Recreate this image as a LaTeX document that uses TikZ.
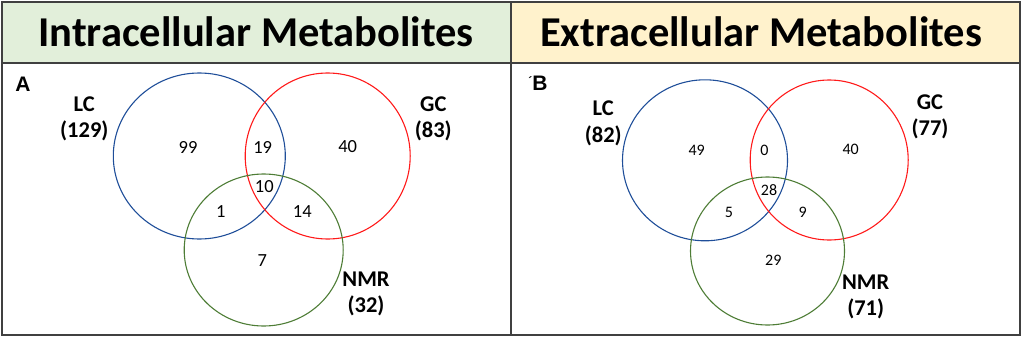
\documentclass[tikz,border=0pt]{standalone}
\usepackage{fontspec}
\setmainfont{Carlito}
\newfontfamily\arialfont{Liberation Sans}
\usetikzlibrary{shapes.geometric}
\definecolor{hdrgreen}{HTML}{E2EFDA}
\definecolor{hdryellow}{HTML}{FFF2CC}
\definecolor{framegray}{HTML}{404040}
\definecolor{lcblue}{HTML}{1F4E99}
\definecolor{gcred}{HTML}{FF1A1A}
\definecolor{nmrgreen}{HTML}{4E7D36}
\tikzset{
  frameline/.style={draw=framegray, line width=1.6pt},
  venn/.style={ellipse, draw, line width=1.1pt, inner sep=0pt},
  titletext/.style={font=\fontsize{42.5}{50}\selectfont\bfseries, inner sep=0pt, anchor=base},
  setlabel/.style={font=\fontsize{22.5}{26.5}\selectfont\bfseries, inner sep=0pt, align=center},
  countA/.style={font=\fontsize{18.5}{21}\selectfont, inner sep=0pt},
  countB/.style={font=\fontsize{16}{18}\selectfont, inner sep=0pt},
  panel/.style={font=\arialfont\fontsize{21}{24}\selectfont\bfseries, inner sep=0pt}
}
\begin{document}
\begin{tikzpicture}[x=1pt,y=-1pt]
\useasboundingbox (0,0) rectangle (1024,337);
% header cells
\fill[hdrgreen] (2,2) rectangle (511,63);
\fill[hdryellow] (511,2) rectangle (1020,63);
\draw[frameline] (2,2) rectangle (1020,335);
\draw[frameline] (2,63) -- (1020,63);
\draw[frameline] (511,2) -- (511,335);
\node[titletext] (tA) at (256,47) {Intracellular Metabolites};
\node[titletext] (tB) at (761,47) {Extracellular Metabolites};
% panel A
\node[panel] (pA) at (23,84) {A};
\node[venn, draw=lcblue, minimum width=172pt, minimum height=166pt] (lcA) at (199.3,156) {};
\node[venn, draw=gcred, minimum width=165pt, minimum height=166pt] (gcA) at (327.7,156) {};
\node[venn, draw=nmrgreen, minimum width=159pt, minimum height=152pt] (nmrA) at (263.7,250) {};
\node[setlabel] (lcAl) at (84.3,119) {LC\\(129)};
\node[setlabel] (gcAl) at (433.3,119) {GC\\(83)};
\node[setlabel] (nmrAl) at (366,294) {NMR\\(32)};
\node[countA] (a1) at (188,147) {99};
\node[countA] (a2) at (262.7,147) {19};
\node[countA] (a3) at (347.7,147) {40};
\node[countA] (a4) at (264.3,186.7) {10};
\node[countA] (a5) at (220.7,211.7) {1};
\node[countA] (a6) at (302.3,211.7) {14};
\node[countA] (a7) at (262.3,261) {7};
% panel B
\node[panel] (pB) at (538,83.3) {\fontsize{12}{13}\selectfont\raisebox{0.45em}{´}\fontsize{21}{24}\selectfont B};
\node[venn, draw=lcblue, minimum width=165pt, minimum height=161pt] (lcB) at (705,160.3) {};
\node[venn, draw=gcred, minimum width=158pt, minimum height=160pt] (gcB) at (829.2,160) {};
\node[venn, draw=nmrgreen, minimum width=154pt, minimum height=148pt] (nmrB) at (767.5,251) {};
\node[setlabel] (lcBl) at (603.3,123.5) {LC\\(82)};
\node[setlabel] (gcBl) at (930,116.7) {GC\\(77)};
\node[setlabel] (nmrBl) at (865.7,296.7) {NMR\\(71)};
\node[countB] (b1) at (696.7,150.7) {49};
\node[countB] (b2) at (764.3,150.7) {0};
\node[countB] (b3) at (850.7,149) {40};
\node[countB] (b4) at (769,190) {28};
\node[countB] (b5) at (729,212.3) {5};
\node[countB] (b6) at (802.7,212.3) {9};
\node[countB] (b7) at (773.3,260) {29};
\end{tikzpicture}
\end{document}
